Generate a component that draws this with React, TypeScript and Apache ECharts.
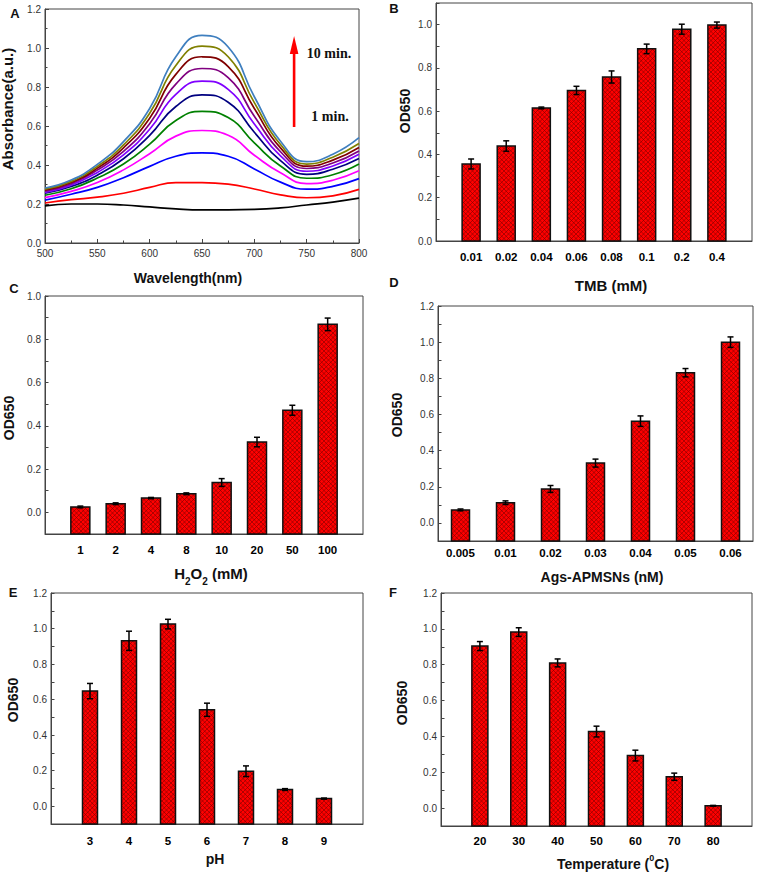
import React, { useEffect, useRef } from "react";
import * as echarts from "echarts";

// ---------- Panel A: absorbance spectra (1..10 min + blank) ----------
const wavelengths = [500, 525, 550, 575, 600, 625, 650, 675, 700, 725, 750, 775, 800];
const specBlank = [0.19, 0.2, 0.2, 0.195, 0.185, 0.175, 0.17, 0.17, 0.172, 0.18, 0.195, 0.21, 0.23];
const spec1 = [0.205, 0.222, 0.235, 0.255, 0.285, 0.31, 0.31, 0.302, 0.277, 0.247, 0.232, 0.242, 0.275];
const spec2 = [0.22, 0.25, 0.285, 0.335, 0.393, 0.445, 0.462, 0.445, 0.38, 0.312, 0.276, 0.29, 0.33];
const spec3 = [0.233, 0.265, 0.31, 0.375, 0.458, 0.548, 0.577, 0.553, 0.45, 0.36, 0.305, 0.322, 0.37];
const spec4 = [0.245, 0.278, 0.333, 0.405, 0.507, 0.628, 0.675, 0.643, 0.513, 0.395, 0.332, 0.35, 0.405];
const spec5 = [0.255, 0.29, 0.348, 0.432, 0.552, 0.7, 0.76, 0.722, 0.568, 0.422, 0.352, 0.378, 0.433];
const spec6 = [0.26, 0.297, 0.362, 0.452, 0.583, 0.762, 0.83, 0.788, 0.61, 0.447, 0.368, 0.395, 0.455];
const spec7 = [0.266, 0.304, 0.374, 0.47, 0.612, 0.815, 0.895, 0.848, 0.65, 0.468, 0.382, 0.41, 0.472];
const spec8 = [0.271, 0.31, 0.384, 0.488, 0.64, 0.865, 0.955, 0.905, 0.69, 0.488, 0.394, 0.425, 0.49];
const spec9 = [0.276, 0.316, 0.393, 0.503, 0.665, 0.91, 1.01, 0.955, 0.72, 0.505, 0.405, 0.44, 0.51];
const spec10 = [0.282, 0.323, 0.403, 0.52, 0.69, 0.955, 1.065, 1.005, 0.75, 0.522, 0.417, 0.455, 0.54];
const spectra = [specBlank, spec1, spec2, spec3, spec4, spec5, spec6, spec7, spec8, spec9, spec10];
const spectraColors = ["#000000", "#ff0000", "#0000ff", "#ff00ff", "#008000", "#000080", "#8000ff", "#800080", "#800000", "#808000", "#3f7fbf"];

// ---------- Panel B: TMB ----------
const tmbCats = ["0.01", "0.02", "0.04", "0.06", "0.08", "0.1", "0.2", "0.4"];
const tmbVals = [0.356, 0.439, 0.615, 0.696, 0.758, 0.888, 0.979, 0.998];
const tmbErr = [0.023, 0.024, 0.004, 0.019, 0.028, 0.022, 0.023, 0.014];

// ---------- Panel C: H2O2 ----------
const h2o2Cats = ["1", "2", "4", "8", "10", "20", "50", "100"];
const h2o2Vals = [0.025, 0.04, 0.066, 0.086, 0.138, 0.325, 0.472, 0.869];
const h2o2Err = [0.004, 0.004, 0.003, 0.004, 0.018, 0.022, 0.023, 0.029];

// ---------- Panel D: Ags-APMSNs ----------
const agsCats = ["0.005", "0.01", "0.02", "0.03", "0.04", "0.05", "0.06"];
const agsVals = [0.072, 0.112, 0.188, 0.331, 0.563, 0.831, 1.0];
const agsErr = [0.005, 0.01, 0.019, 0.022, 0.029, 0.023, 0.029];

// ---------- Panel E: pH ----------
const phCats = ["3", "4", "5", "6", "7", "8", "9"];
const phVals = [0.648, 0.931, 1.025, 0.543, 0.197, 0.094, 0.043];
const phErr = [0.043, 0.054, 0.027, 0.037, 0.03, 0.005, 0.003];

// ---------- Panel F: Temperature ----------
const tempCats = ["20", "30", "40", "50", "60", "70", "80"];
const tempVals = [0.904, 0.982, 0.81, 0.427, 0.293, 0.175, 0.013];
const tempErr = [0.025, 0.024, 0.022, 0.03, 0.03, 0.02, 0.002];

const SANS = "'Liberation Sans', Arial, sans-serif";
const SERIF = "'Liberation Serif', 'Times New Roman', serif";
const AXIS_COLOR = "#444";

function makeHatch(): HTMLCanvasElement {
  const c = document.createElement("canvas");
  c.width = 9;
  c.height = 9;
  const ctx = c.getContext("2d")!;
  ctx.fillStyle = "#ff0000";
  ctx.fillRect(0, 0, 9, 9);
  ctx.strokeStyle = "#7a0000";
  ctx.lineWidth = 0.6;
  ctx.beginPath();
  for (let k = -9; k <= 9; k += 4.5) {
    ctx.moveTo(k, 0);
    ctx.lineTo(k + 9, 9);
  }
  for (let k = 0; k <= 18; k += 4.5) {
    ctx.moveTo(k, 0);
    ctx.lineTo(k - 9, 9);
  }
  ctx.stroke();
  return c;
}

function yLabel(v: number) {
  const k = Math.round(v * 10);
  return k >= 0 && k % 2 === 0 ? v.toFixed(1) : "";
}

export default function App() {
  const ref = useRef<HTMLDivElement>(null);
  useEffect(() => {
    if (!ref.current) return;
    const chart = echarts.init(ref.current, undefined, { renderer: "svg" });
    const hatch = makeHatch();

    const grids = [
      { left: 45, top: 9, width: 314, height: 234 },
      { left: 436, top: 3, width: 316, height: 238 },
      { left: 45, top: 296, width: 318, height: 238 },
      { left: 438, top: 306, width: 315, height: 235 },
      { left: 51, top: 593, width: 312, height: 231 },
      { left: 441, top: 593, width: 311, height: 233 },
    ].map((g) => ({ ...g, show: true, borderColor: AXIS_COLOR, borderWidth: 1, backgroundColor: "transparent" }));

    const barPanels = [
      { cats: tmbCats, vals: tmbVals, err: tmbErr, pad: true, ymin: 0, ymax: 1.1, bw: 18, margin: 10 },
      { cats: h2o2Cats, vals: h2o2Vals, err: h2o2Err, pad: true, ymin: -0.1, ymax: 1.0, bw: 19, margin: 10 },
      { cats: agsCats, vals: agsVals, err: agsErr, pad: false, ymin: -0.1, ymax: 1.2, bw: 18, margin: 6 },
      { cats: phCats, vals: phVals, err: phErr, pad: true, ymin: -0.1, ymax: 1.2, bw: 15, margin: 11 },
      { cats: tempCats, vals: tempVals, err: tempErr, pad: true, ymin: -0.1, ymax: 1.2, bw: 16, margin: 9 },
    ];

    const xAxes: any[] = [
      {
        type: "value", gridIndex: 0, min: 500, max: 800, interval: 50,
        axisLine: { onZero: false, lineStyle: { color: AXIS_COLOR } },
        axisTick: { inside: true, length: 4, lineStyle: { color: AXIS_COLOR } },
        minorTick: { show: true, splitNumber: 2, length: 2.5, lineStyle: { color: AXIS_COLOR } },
        splitLine: { show: false },
        axisLabel: { fontSize: 10, color: "#333", fontFamily: SANS, margin: 5 },
      },
    ];
    const yAxes: any[] = [
      {
        type: "value", gridIndex: 0, min: 0, max: 1.2, interval: 0.2,
        axisLine: { show: true, onZero: false, lineStyle: { color: AXIS_COLOR } },
        axisTick: { show: true, inside: true, length: 4, lineStyle: { color: AXIS_COLOR } },
        minorTick: { show: true, splitNumber: 2, length: 2.5, lineStyle: { color: AXIS_COLOR } },
        splitLine: { show: false },
        axisLabel: { fontSize: 10, color: "#333", fontFamily: SANS, margin: 4, formatter: (v: number) => v.toFixed(1) },
      },
    ];
    const series: any[] = spectra.map((s, i) => ({
      type: "line",
      xAxisIndex: 0,
      yAxisIndex: 0,
      data: s.map((v, j) => [wavelengths[j], v]),
      smooth: 0.5,
      showSymbol: false,
      lineStyle: { color: spectraColors[i], width: 1.7 },
      z: 2 + i,
    }));

    barPanels.forEach((p, k) => {
      const gi = k + 1;
      const cats = p.pad ? ["", ...p.cats, ""] : p.cats;
      const off = p.pad ? 1 : 0;
      xAxes.push({
        type: "category", gridIndex: gi, data: cats, boundaryGap: !p.pad,
        axisLine: { onZero: false, lineStyle: { color: AXIS_COLOR } },
        axisTick: { show: false },
        axisLabel: { interval: 0, fontSize: 11.5, fontWeight: "bold", color: "#000", fontFamily: SANS, margin: p.margin },
      });
      yAxes.push({
        type: "value", gridIndex: gi, min: p.ymin, max: p.ymax, interval: 0.1,
        axisLine: { show: true, onZero: false, lineStyle: { color: AXIS_COLOR } },
        axisTick: { show: true, inside: true, length: 3.5, lineStyle: { color: AXIS_COLOR } },
        splitLine: { show: false },
        axisLabel: { fontSize: 10, color: "#333", fontFamily: SANS, margin: 4, formatter: yLabel, showMaxLabel: true },
      });
      const base = p.ymin;
      const bw = p.bw;
      // bars (from the bottom axis to the value), drawn through the axes' scales
      series.push({
        type: "custom",
        xAxisIndex: gi,
        yAxisIndex: gi,
        data: p.vals.map((v, i) => [i + off, v]),
        encode: { x: 0, y: 1 },
        z: 2,
        renderItem: (_params: any, api: any) => {
          const top = api.coord([api.value(0), api.value(1)]);
          const bot = api.coord([api.value(0), base]);
          return {
            type: "rect",
            shape: { x: top[0] - bw / 2, y: top[1], width: bw, height: bot[1] - top[1] },
            style: { fill: { image: hatch, repeat: "repeat" }, stroke: "#111", lineWidth: 1.5 },
          };
        },
      });
      // error bars
      series.push({
        type: "custom",
        xAxisIndex: gi,
        yAxisIndex: gi,
        data: p.vals.map((v, i) => [i + off, v, p.err[i]]),
        encode: { x: 0, y: 1 },
        z: 5,
        renderItem: (_params: any, api: any) => {
          const x = api.value(0);
          const v = api.value(1);
          const e = api.value(2);
          const t = api.coord([x, v + e]);
          const b = api.coord([x, v - e]);
          const hw = 3;
          const st = { stroke: "#000", lineWidth: 1.5 };
          return {
            type: "group",
            children: [
              { type: "line", shape: { x1: t[0], y1: t[1], x2: b[0], y2: b[1] }, style: st },
              { type: "line", shape: { x1: t[0] - hw, y1: t[1], x2: t[0] + hw, y2: t[1] }, style: st },
              { type: "line", shape: { x1: b[0] - hw, y1: b[1], x2: b[0] + hw, y2: b[1] }, style: st },
            ],
          };
        },
      });
    });

    const title = (text: string, x: number, y: number, size = 14, rotate = false, extra: any = {}) => ({
      type: "text",
      x,
      y,
      rotation: rotate ? Math.PI / 2 : 0,
      style: {
        text,
        fontSize: size,
        fontWeight: "bold",
        fontFamily: SANS,
        fill: "#111",
        align: "center",
        verticalAlign: "middle",
        ...extra,
      },
      z: 10,
    });

    const graphic: any[] = [
      title("A", 15, 13, 13),
      title("B", 394, 8, 13),
      title("C", 14, 288, 13),
      title("D", 394, 282, 13),
      title("E", 13, 592, 13),
      title("F", 393, 592, 13),
      title("Absorbance(a.u.)", 7, 109, 15, true),
      title("Wavelength(nm)", 188, 278, 14),
      title("OD650", 405, 111, 14, true),
      title("TMB (mM)", 611, 285, 15),
      title("OD650", 9, 418, 14, true),
      title("", 211, 576, 14, false, {
        text: "{a|H}{s|2}{a|O}{s|2}{a| (mM)}",
        rich: {
          a: { fontSize: 15, fontWeight: "bold", fontFamily: SANS, fill: "#111", lineHeight: 20, verticalAlign: "top" },
          s: { fontSize: 10, fontWeight: "bold", fontFamily: SANS, fill: "#111", lineHeight: 20, verticalAlign: "bottom" },
        },
      }),
      title("OD650", 397, 415, 14, true),
      title("Ags-APMSNs (nM)", 602, 577, 14),
      title("OD650", 13, 700, 14, true),
      title("pH", 215, 859, 14),
      title("OD650", 402, 703, 14, true),
      title("", 613, 862, 14, false, {
        text: "{a|Temperature (}{s|0}{a|C)}",
        rich: {
          a: { fontSize: 14, fontWeight: "bold", fontFamily: SANS, fill: "#111", lineHeight: 18, verticalAlign: "bottom" },
          s: { fontSize: 9, fontWeight: "bold", fontFamily: SANS, fill: "#111", lineHeight: 18, verticalAlign: "top" },
        },
      }),
      // arrow in panel A
      { type: "rect", shape: { x: 292.8, y: 50, width: 2.6, height: 77 }, style: { fill: "#ff0000" }, z: 10 },
      { type: "polygon", shape: { points: [[294.1, 36], [289.8, 54], [298.4, 54]] }, style: { fill: "#ff0000" }, z: 10 },
      {
        type: "text", x: 329, y: 53, z: 10,
        style: { text: "10 min.", fontSize: 14, fontWeight: "bold", fontFamily: SERIF, fill: "#111", align: "center", verticalAlign: "middle" },
      },
      {
        type: "text", x: 330, y: 116, z: 10,
        style: { text: "1 min.", fontSize: 14, fontWeight: "bold", fontFamily: SERIF, fill: "#111", align: "center", verticalAlign: "middle" },
      },
    ];

    chart.setOption({
      animation: false,
      backgroundColor: "#ffffff",
      grid: grids,
      xAxis: xAxes,
      yAxis: yAxes,
      series,
      graphic,
    });
    return () => chart.dispose();
  }, []);
  return <div ref={ref} style={{ position: "absolute", left: 0, top: 0, width: 760, height: 873 }} />;
}
